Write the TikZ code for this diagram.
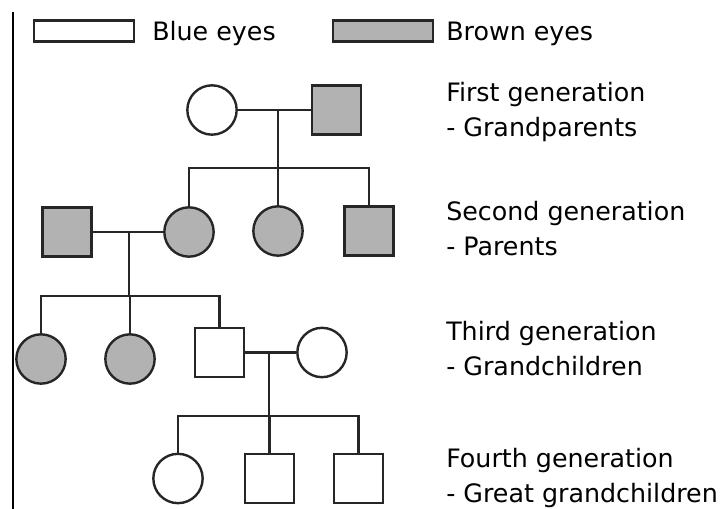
\documentclass[tikz,border=0pt]{standalone}
\usepackage{fontspec}
\setmainfont{DejaVu Sans}
\usepackage{xcolor}
\usetikzlibrary{positioning}
\definecolor{browneye}{gray}{0.7}
\definecolor{pedline}{gray}{0.15}
\tikzset{
  person/.style={draw=pedline, line width=1.8pt, inner sep=0pt, fill=white},
  female/.style={person, circle, minimum size=37pt},
  male/.style={person, rectangle, minimum size=36.8pt},
  browneyed/.style={fill=browneye},
  key/.style={person, rectangle, minimum width=75pt, minimum height=15.5pt},
  gen/.style={anchor=base west, inner sep=0pt, align=left, font=\fontsize{19pt}{26.25pt}\selectfont},
  link/.style={draw=pedline, line width=1.8pt},
}

\begin{document}
\begin{tikzpicture}[x=0.75pt, y=-0.75pt]
    \useasboundingbox (0,0) rectangle (726,509);
    % rule at the left
    \draw[line width=1.6pt] (12.7,12) -- (12.7,509);

    % legend
    \node[key] (kblue) at (84,31) {};
    \node[gen] (tblue) at (152,41) {Blue eyes};
    \node[key, browneyed] (kbrown) at (383,31) {};
    \node[gen] (tbrown) at (446,41) {Brown eyes};

    % first generation
    \node[female] (gma) at (212,110) {};
    \node[male, browneyed] (gpa) at (336.5,110) {};
    \coordinate (m1) at (278,110);
    \coordinate (s1) at (278,168);
    \draw[link] (gma) -- (gpa);
    \draw[link] (m1) -- (s1);

    % second generation
    \node[male, browneyed] (dad) at (67,232) {};
    \node[female, browneyed] (mum) at (189,232) {};
    \node[female, browneyed] (aunt) at (278,231) {};
    \node[male, browneyed] (uncle) at (369,231) {};
    \draw[link] (mum.north) |- (s1) -| (uncle.north);
    \draw[link] (aunt.north) -- (aunt.north |- s1);
    \coordinate (m2) at (129,232);
    \coordinate (s2) at (129,296);
    \draw[link] (dad) -- (mum);
    \draw[link] (m2) -- (s2);

    % third generation
    \node[female, browneyed] (kid1) at (41,359) {};
    \node[female, browneyed] (kid2) at (130,359) {};
    \node[male] (son) at (219.5,352.5) {};
    \node[female] (wife) at (322,352.5) {};
    \draw[link] (kid1.north) |- (s2) -| (son.north);
    \draw[link] (kid2.north) -- (kid2.north |- s2);
    \coordinate (m3) at (269,352.5);
    \coordinate (s3) at (269,416);
    \draw[link] (son) -- (wife);
    \draw[link] (m3) -- (s3);

    % fourth generation
    \node[female] (gk1) at (178,478.5) {};
    \node[male] (gk2) at (269.5,478.5) {};
    \node[male] (gk3) at (358.5,478.5) {};
    \draw[link] (gk1.north) |- (s3) -| (gk3.north);
    \draw[link] (gk2.north) -- (gk2.north |- s3);

    % generation labels (anchored on the second line)
    \node[gen] (lab1) at (446,137) {First generation\\- Grandparents};
    \node[gen] (lab2) at (446,256) {Second generation\\- Parents};
    \node[gen] (lab3) at (446,376) {Third generation\\- Grandchildren};
    \node[gen] (lab4) at (446,503) {Fourth generation\\- Great grandchildren};
\end{tikzpicture}
\end{document}
